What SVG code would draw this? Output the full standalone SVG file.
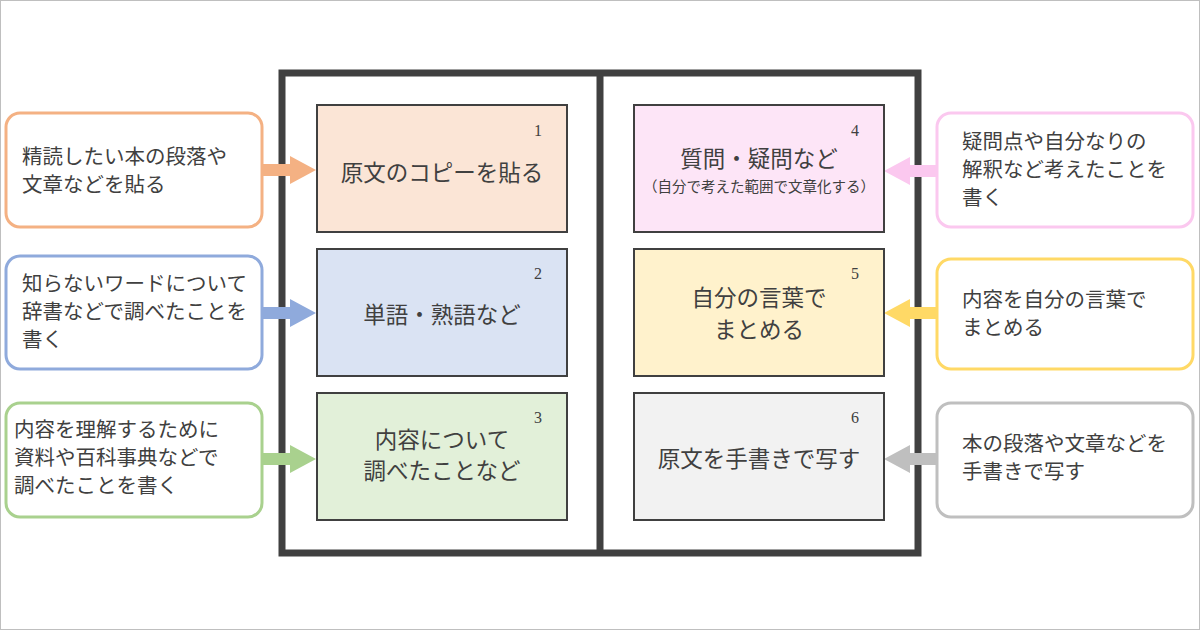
<svg xmlns="http://www.w3.org/2000/svg" width="1200" height="630" viewBox="0 0 1200 630">
<style>
text{font-family:"Noto Sans CJK JP","Noto Sans",sans-serif;fill:#404040}
.m{font-size:22.5px;text-anchor:middle}
.s{font-size:20.5px}
.n{font-family:"Liberation Serif",serif;font-size:16px;text-anchor:middle}
.box{stroke:#404040;stroke-width:2}
.c{fill:#fff;stroke-width:3}
</style>
<rect x="0.5" y="0.5" width="1199" height="629" fill="#fff" stroke="#bfbfbf"/>
<g id="book" fill="none" stroke="#404040" stroke-width="7">
<rect x="282" y="73" width="636" height="480"/>
<line x1="600" y1="73" x2="600" y2="553"/>
</g>
<g id="connectors">
<polygon points="262,164 290,164 290,156 316,170 290,184 290,176 262,176" fill="#f4b183"/>
<polygon points="262,307 290,307 290,299 316,313 290,327 290,319 262,319" fill="#8faadc"/>
<polygon points="262,453 290,453 290,445 316,459 290,473 290,465 262,465" fill="#a9d18e"/>
<polygon points="937,165 910,165 910,157 884,171 910,185 910,177 937,177" fill="#fbc8ef"/>
<polygon points="937,307 910,307 910,299 884,313 910,327 910,319 937,319" fill="#ffd966"/>
<polygon points="937,453 910,453 910,445 884,459 910,473 910,465 937,465" fill="#bfbfbf"/>
</g>
<g id="n1"><rect class="box" x="317" y="105" width="250" height="127" fill="#fbe5d6"/><text class="n" x="538" y="136">1</text><text class="m" x="442" y="181">原文のコピーを貼る</text></g>
<g id="n2"><rect class="box" x="317" y="249" width="250" height="127" fill="#dae3f3"/><text class="n" x="538" y="279">2</text><text class="m" x="442" y="323">単語・熟語など</text></g>
<g id="n3"><rect class="box" x="317" y="393" width="250" height="127" fill="#e2f0d9"/><text class="n" x="538" y="423">3</text><text class="m" x="442" y="448">内容について</text><text class="m" x="442" y="479">調べたことなど</text></g>
<g id="n4"><rect class="box" x="634" y="105" width="250" height="127" fill="#fde5f7"/><text class="n" x="855" y="136">4</text><text class="m" x="759" y="167">質問・疑問など</text><text x="759" y="192" font-size="14.5" text-anchor="middle">（自分で考えた範囲で文章化する）</text></g>
<g id="n5"><rect class="box" x="634" y="249" width="250" height="127" fill="#fff2cc"/><text class="n" x="855" y="279">5</text><text class="m" x="759" y="306">自分の言葉で</text><text class="m" x="759" y="338">まとめる</text></g>
<g id="n6"><rect class="box" x="634" y="393" width="250" height="127" fill="#f2f2f2"/><text class="n" x="855" y="423">6</text><text class="m" x="759" y="467">原文を手書きで写す</text></g>
<g id="c1"><rect class="c" x="6" y="113" width="256" height="114" rx="14" stroke="#f4b183"/><text class="s" x="22" y="164">精読したい本の段落や</text><text class="s" x="22" y="192">文章などを貼る</text></g>
<g id="c2"><rect class="c" x="6" y="256" width="256" height="113" rx="14" stroke="#8faadc"/><text class="s" x="22" y="291">知らないワードについて</text><text class="s" x="22" y="319">辞書などで調べたことを</text><text class="s" x="22" y="347">書く</text></g>
<g id="c3"><rect class="c" x="6" y="403" width="256" height="114" rx="14" stroke="#a9d18e"/><text class="s" x="14" y="437">内容を理解するために</text><text class="s" x="14" y="465">資料や百科事典などで</text><text class="s" x="14" y="493">調べたことを書く</text></g>
<g id="c4"><rect class="c" x="937" y="113" width="256" height="114" rx="14" stroke="#fbc8ef"/><text class="s" x="962" y="149">疑問点や自分なりの</text><text class="s" x="962" y="177">解釈など考えたことを</text><text class="s" x="962" y="205">書く</text></g>
<g id="c5"><rect class="c" x="937" y="259" width="256" height="110" rx="14" stroke="#ffd966"/><text class="s" x="962" y="307">内容を自分の言葉で</text><text class="s" x="962" y="335">まとめる</text></g>
<g id="c6"><rect class="c" x="937" y="403" width="256" height="114" rx="14" stroke="#bfbfbf"/><text class="s" x="962" y="451">本の段落や文章などを</text><text class="s" x="962" y="479">手書きで写す</text></g>
</svg>
